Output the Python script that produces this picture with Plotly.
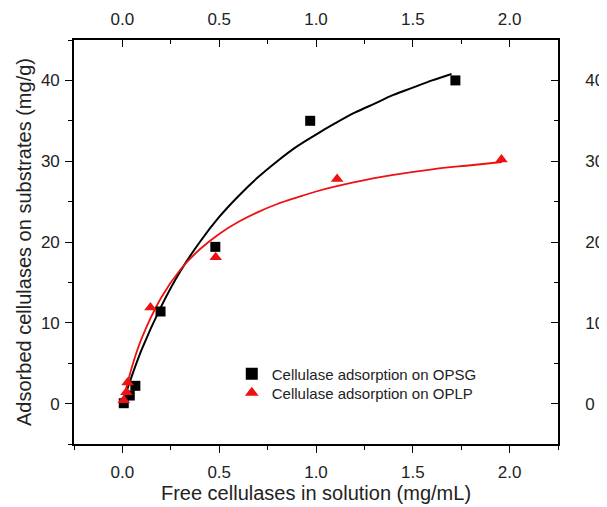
import plotly.graph_objects as go

opsg_x = [0.007, 0.038, 0.067, 0.197, 0.48, 0.97, 1.72]
opsg_y = [0.05, 1.0, 2.2, 11.4, 19.4, 35.0, 40.0]
oplp_x = [0.007, 0.021, 0.027, 0.145, 0.482, 1.109, 1.958]
oplp_y = [0.4, 1.4, 2.6, 11.9, 18.1, 27.8, 30.2]

# Fitted curves
fit_opsg_x = [0, 0.05, 0.1, 0.2, 0.3, 0.4, 0.5, 0.6, 0.7, 0.8, 0.9, 1.0, 1.1, 1.2, 1.3, 1.4, 1.5, 1.6, 1.7]
fit_opsg_y = [0, 3.5, 6.7, 12.0, 16.4, 20.0, 23.1, 25.7, 28.0, 30.0, 31.8, 33.3, 34.7, 36.0, 37.1, 38.2, 39.1, 40.0, 40.8]
fit_oplp_x = [0, 0.05, 0.1, 0.2, 0.3, 0.4, 0.5, 0.6, 0.7, 0.8, 0.9, 1.0, 1.2, 1.4, 1.6, 1.8, 1.96]
fit_oplp_y = [0, 4.6, 8.1, 13.1, 16.6, 19.1, 21.0, 22.5, 23.7, 24.7, 25.5, 26.25, 27.4, 28.3, 29.0, 29.5, 29.9]

names = ["Cellulase adsorption on OPSG", "Cellulase adsorption on OPLP"]
x_title = "Free cellulases in solution (mg/mL)"
y_title = "Adsorbed cellulases on substrates (mg/g)"
x_ticks = [0, 0.5, 1.0, 1.5, 2.0]
x_ticktext = ["0.0", "0.5", "1.0", "1.5", "2.0"]
y_ticks = [0, 10, 20, 30, 40]
x_minor = [-0.25, 0.25, 0.75, 1.25, 1.75, 2.25]
y_minor = [-5, 5, 15, 25, 35, 45]

FONT = "Liberation Sans, Arial, sans-serif"
RED = "#ee1111"
TXT = "#222"
fig = go.Figure()
fig.add_trace(go.Scatter(x=fit_opsg_x, y=fit_opsg_y, mode="lines", line=dict(color="black", width=2, shape="spline"), showlegend=False))
fig.add_trace(go.Scatter(x=fit_oplp_x, y=fit_oplp_y, mode="lines", line=dict(color=RED, width=1.8, shape="spline"), showlegend=False))
fig.add_trace(go.Scatter(x=opsg_x, y=opsg_y, mode="markers", name=names[0], legend="legend",
                         marker=dict(symbol="square", size=10, color="black")))
fig.add_trace(go.Scatter(x=oplp_x, y=oplp_y, mode="markers", name=names[1], legend="legend2",
                         marker=dict(symbol="triangle-up", size=11, color=RED)))
# invisible trace on the mirrored (top/right) axes so they are drawn
fig.add_trace(go.Scatter(x=opsg_x, y=opsg_y, xaxis="x2", yaxis="y2", mode="markers",
                         marker=dict(opacity=0), showlegend=False, hoverinfo="skip"))

minor_common = dict(ticklen=4, tickcolor="black", tickwidth=1.4)
axis_common = dict(showline=True, linecolor="black", linewidth=1.6, showgrid=False, zeroline=False,
                   tickcolor="black", tickwidth=1.4, ticklen=7, automargin=False,
                   tickfont=dict(family=FONT, size=17, color=TXT))
title_font = dict(family=FONT, size=20, color=TXT)
legend_common = dict(xanchor="left", yanchor="middle", bgcolor="rgba(0,0,0,0)",
                     font=dict(family=FONT, size=15, color=TXT), itemsizing="constant")

# page body has an 8px margin: plot area in page = left 74, top 40, right 558, bottom 444
fig.update_layout(
    width=607, height=507,
    margin=dict(l=66, r=57, t=32, b=71),
    paper_bgcolor="white", plot_bgcolor="white",
    font=dict(family=FONT, color=TXT),
    xaxis=dict(range=[-0.25, 2.25], tickvals=x_ticks, ticktext=x_ticktext, ticks="outside",
               ticklabelstandoff=5,
               minor=dict(ticks="outside", tickvals=x_minor, **minor_common),
               title=dict(text=x_title, font=title_font, standoff=5), **axis_common),
    yaxis=dict(range=[-5, 45], tickvals=y_ticks, ticks="outside", ticklabelstandoff=2,
               minor=dict(ticks="outside", tickvals=y_minor, **minor_common),
               title=dict(text=y_title, font=title_font, standoff=4), **axis_common),
    xaxis2=dict(overlaying="x", side="top", range=[-0.25, 2.25], tickvals=x_ticks, ticktext=x_ticktext,
                ticks="inside", ticklabelstandoff=6,
                minor=dict(ticks="inside", tickvals=x_minor, **minor_common), **axis_common),
    yaxis2=dict(overlaying="y", side="right", range=[-5, 45], tickvals=y_ticks, ticks="inside",
                ticklabelstandoff=22,
                minor=dict(ticks="inside", tickvals=y_minor, **minor_common), **axis_common),
    legend=dict(x=0.326, y=0.173, **legend_common),
    legend2=dict(x=0.326, y=0.126, **legend_common),
)

fig.write_html("out.html")
